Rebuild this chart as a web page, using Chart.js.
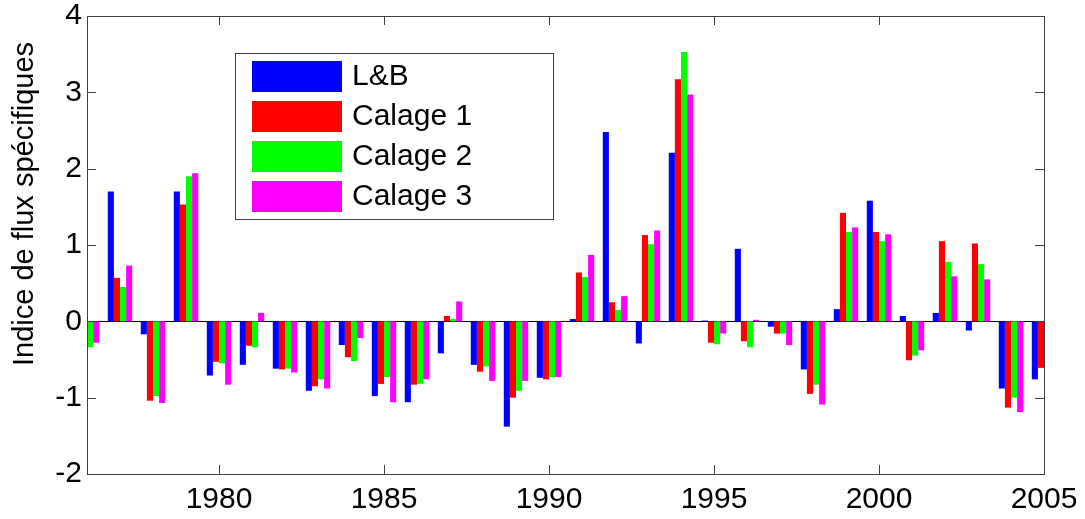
<!DOCTYPE html>
<html>
<head>
<meta charset="utf-8">
<script src="https://cdn.jsdelivr.net/npm/chart.js@4.4.1/dist/chart.umd.min.js"></script>
<style>
  body { margin: 0; background: #fff; }
  #wrap { width: 1085px; height: 519px; }
</style>
</head>
<body>
<div id="wrap"><canvas id="myChart" width="1085" height="519"></canvas></div>
<script>
// years on the x axis (first and last groups are cut by the plot frame)
const years = [1976, 1977, 1978, 1979, 1980, 1981, 1982, 1983, 1984, 1985,
    1986, 1987, 1988, 1989, 1990, 1991, 1992, 1993, 1994, 1995,
    1996, 1997, 1998, 1999, 2000, 2001, 2002, 2003, 2004, 2005];

const seriesNames = ['L&B', 'Calage 1', 'Calage 2', 'Calage 3'];
const seriesColors = ['#0000ff', '#ff0000', '#00ff00', '#ff00ff'];

const lbValues = [null, 1.70, -0.17, 1.70, -0.71, -0.57, -0.62, -0.91, -0.31, -0.98,
    -1.06, -0.42, -0.57, -1.38, -0.74, 0.03, 2.48, -0.29, 2.21, 0.01,
    0.95, -0.07, -0.63, 0.16, 1.58, 0.07, 0.11, -0.12, -0.88, -0.76];
const calage1Values = [null, 0.57, -1.04, 1.53, -0.53, -0.32, -0.63, -0.85, -0.47, -0.82,
    -0.83, 0.07, -0.66, -1.00, -0.76, 0.64, 0.25, 1.13, 3.17, -0.28,
    -0.26, -0.16, -0.95, 1.42, 1.17, -0.51, 1.05, 1.02, -1.13, -0.61];
const calage2Values = [-0.34, 0.45, -0.98, 1.90, -0.55, -0.34, -0.62, -0.76, -0.52, -0.73,
    -0.82, 0.03, -0.59, -0.91, -0.73, 0.58, 0.15, 1.01, 3.53, -0.30,
    -0.34, -0.16, -0.83, 1.17, 1.05, -0.45, 0.78, 0.75, -1.00, null];
const calage3Values = [-0.28, 0.73, -1.07, 1.94, -0.83, 0.11, -0.67, -0.88, -0.22, -1.06,
    -0.76, 0.26, -0.78, -0.78, -0.73, 0.87, 0.33, 1.19, 2.97, -0.16,
    0.02, -0.31, -1.09, 1.23, 1.14, -0.38, 0.59, 0.55, -1.19, null];

const yTicks = [-2, -1, 0, 1, 2, 3, 4];
const xTickYears = [1980, 1985, 1990, 1995, 2000, 2005];
const yTitle = 'Indice de flux spécifiques';

const FONT = '"Liberation Sans", Arial, sans-serif';
const frameColor = '#404040';

const allValues = [lbValues, calage1Values, calage2Values, calage3Values];

// MATLAB-like frame, inward ticks, zero line, legend and y title
const matlabStyle = {
    id: 'matlabStyle',
    beforeDatasetsDraw(chart) {
        const { ctx, chartArea: a, scales: { y } } = chart;
        const y0 = Math.round(y.getPixelForValue(0)) + 0.5;
        ctx.save();
        ctx.strokeStyle = '#000';
        ctx.lineWidth = 1;
        ctx.beginPath();
        ctx.moveTo(a.left, y0);
        ctx.lineTo(a.right, y0);
        ctx.stroke();
        ctx.restore();
    },
    afterDraw(chart) {
        const { ctx, chartArea: a, scales: { x, y } } = chart;
        const tl = 9;
        ctx.save();
        ctx.strokeStyle = frameColor;
        ctx.lineWidth = 1;
        ctx.beginPath();
        // frame
        ctx.rect(Math.round(a.left) + 0.5, Math.round(a.top) + 0.5,
            Math.round(a.right - a.left), Math.round(a.bottom - a.top));
        // y ticks on both sides
        yTicks.forEach(v => {
            const p = Math.round(y.getPixelForValue(v)) + 0.5;
            ctx.moveTo(a.left, p); ctx.lineTo(a.left + tl, p);
            ctx.moveTo(a.right, p); ctx.lineTo(a.right - tl, p);
        });
        // x ticks top and bottom
        xTickYears.forEach(yr => {
            const p = Math.round(x.getPixelForValue(years.indexOf(yr))) + 0.5;
            ctx.moveTo(p, a.bottom); ctx.lineTo(p, a.bottom - tl);
            ctx.moveTo(p, a.top); ctx.lineTo(p, a.top + tl);
        });
        ctx.stroke();

        // legend
        const lx = 235.5, ly = 53.5, lw = 318, lh = 166;
        ctx.fillStyle = '#fff';
        ctx.fillRect(lx, ly, lw, lh);
        ctx.strokeRect(lx, ly, lw, lh);
        ctx.font = '30px ' + FONT;
        ctx.textBaseline = 'middle';
        ctx.textAlign = 'left';
        chart.data.datasets.forEach((ds, i) => {
            const sy = 61 + i * 40;
            ctx.fillStyle = ds.backgroundColor;
            ctx.fillRect(252, sy, 90, 31);
            ctx.fillStyle = '#000';
            ctx.fillText(ds.label, 352, sy + 16);
        });

        // y title
        ctx.translate(33, 204);
        ctx.rotate(-Math.PI / 2);
        ctx.font = '29px ' + FONT;
        ctx.textAlign = 'center';
        ctx.textBaseline = 'alphabetic';
        ctx.fillStyle = '#000';
        ctx.fillText(yTitle, 0, 0);
        ctx.restore();
    }
};

const ctx1 = document.getElementById('myChart').getContext('2d');

const myBarChart = new Chart(ctx1, {
    type: 'bar',
    data: {
        labels: years,
        datasets: seriesNames.map((name, i) => ({
            label: name,
            data: allValues[i],
            backgroundColor: seriesColors[i],
            borderWidth: 0,
            barPercentage: 1,
            categoryPercentage: 0.74,
            clip: 0
        }))
    },
    options: {
        responsive: false,
        animation: false,
        layout: {
            padding: { left: 0, right: 41, top: 16, bottom: 0 }
        },
        plugins: {
            legend: { display: false },
            tooltip: { enabled: false }
        },
        scales: {
            x: {
                type: 'category',
                offset: false,
                grid: { display: false, drawTicks: false },
                border: { display: false },
                ticks: {
                    autoSkip: false,
                    maxRotation: 0,
                    padding: 8,
                    color: '#000',
                    font: { family: FONT, size: 30 },
                    callback: (val, idx) => (years[idx] % 5 === 0 ? String(years[idx]) : '')
                },
                afterFit: (scale) => {
                    scale.height = 45;
                    scale.paddingLeft = 0;
                    scale.paddingRight = 0;
                }
            },
            y: {
                min: -2,
                max: 4,
                grid: { display: false, drawTicks: false },
                border: { display: false },
                ticks: {
                    stepSize: 1,
                    padding: 5,
                    color: '#000',
                    font: { family: FONT, size: 30 }
                },
                afterFit: (scale) => {
                    scale.width = 87;
                    scale.paddingTop = 0;
                    scale.paddingBottom = 0;
                }
            }
        }
    },
    plugins: [matlabStyle]
});
</script>
</body>
</html>
